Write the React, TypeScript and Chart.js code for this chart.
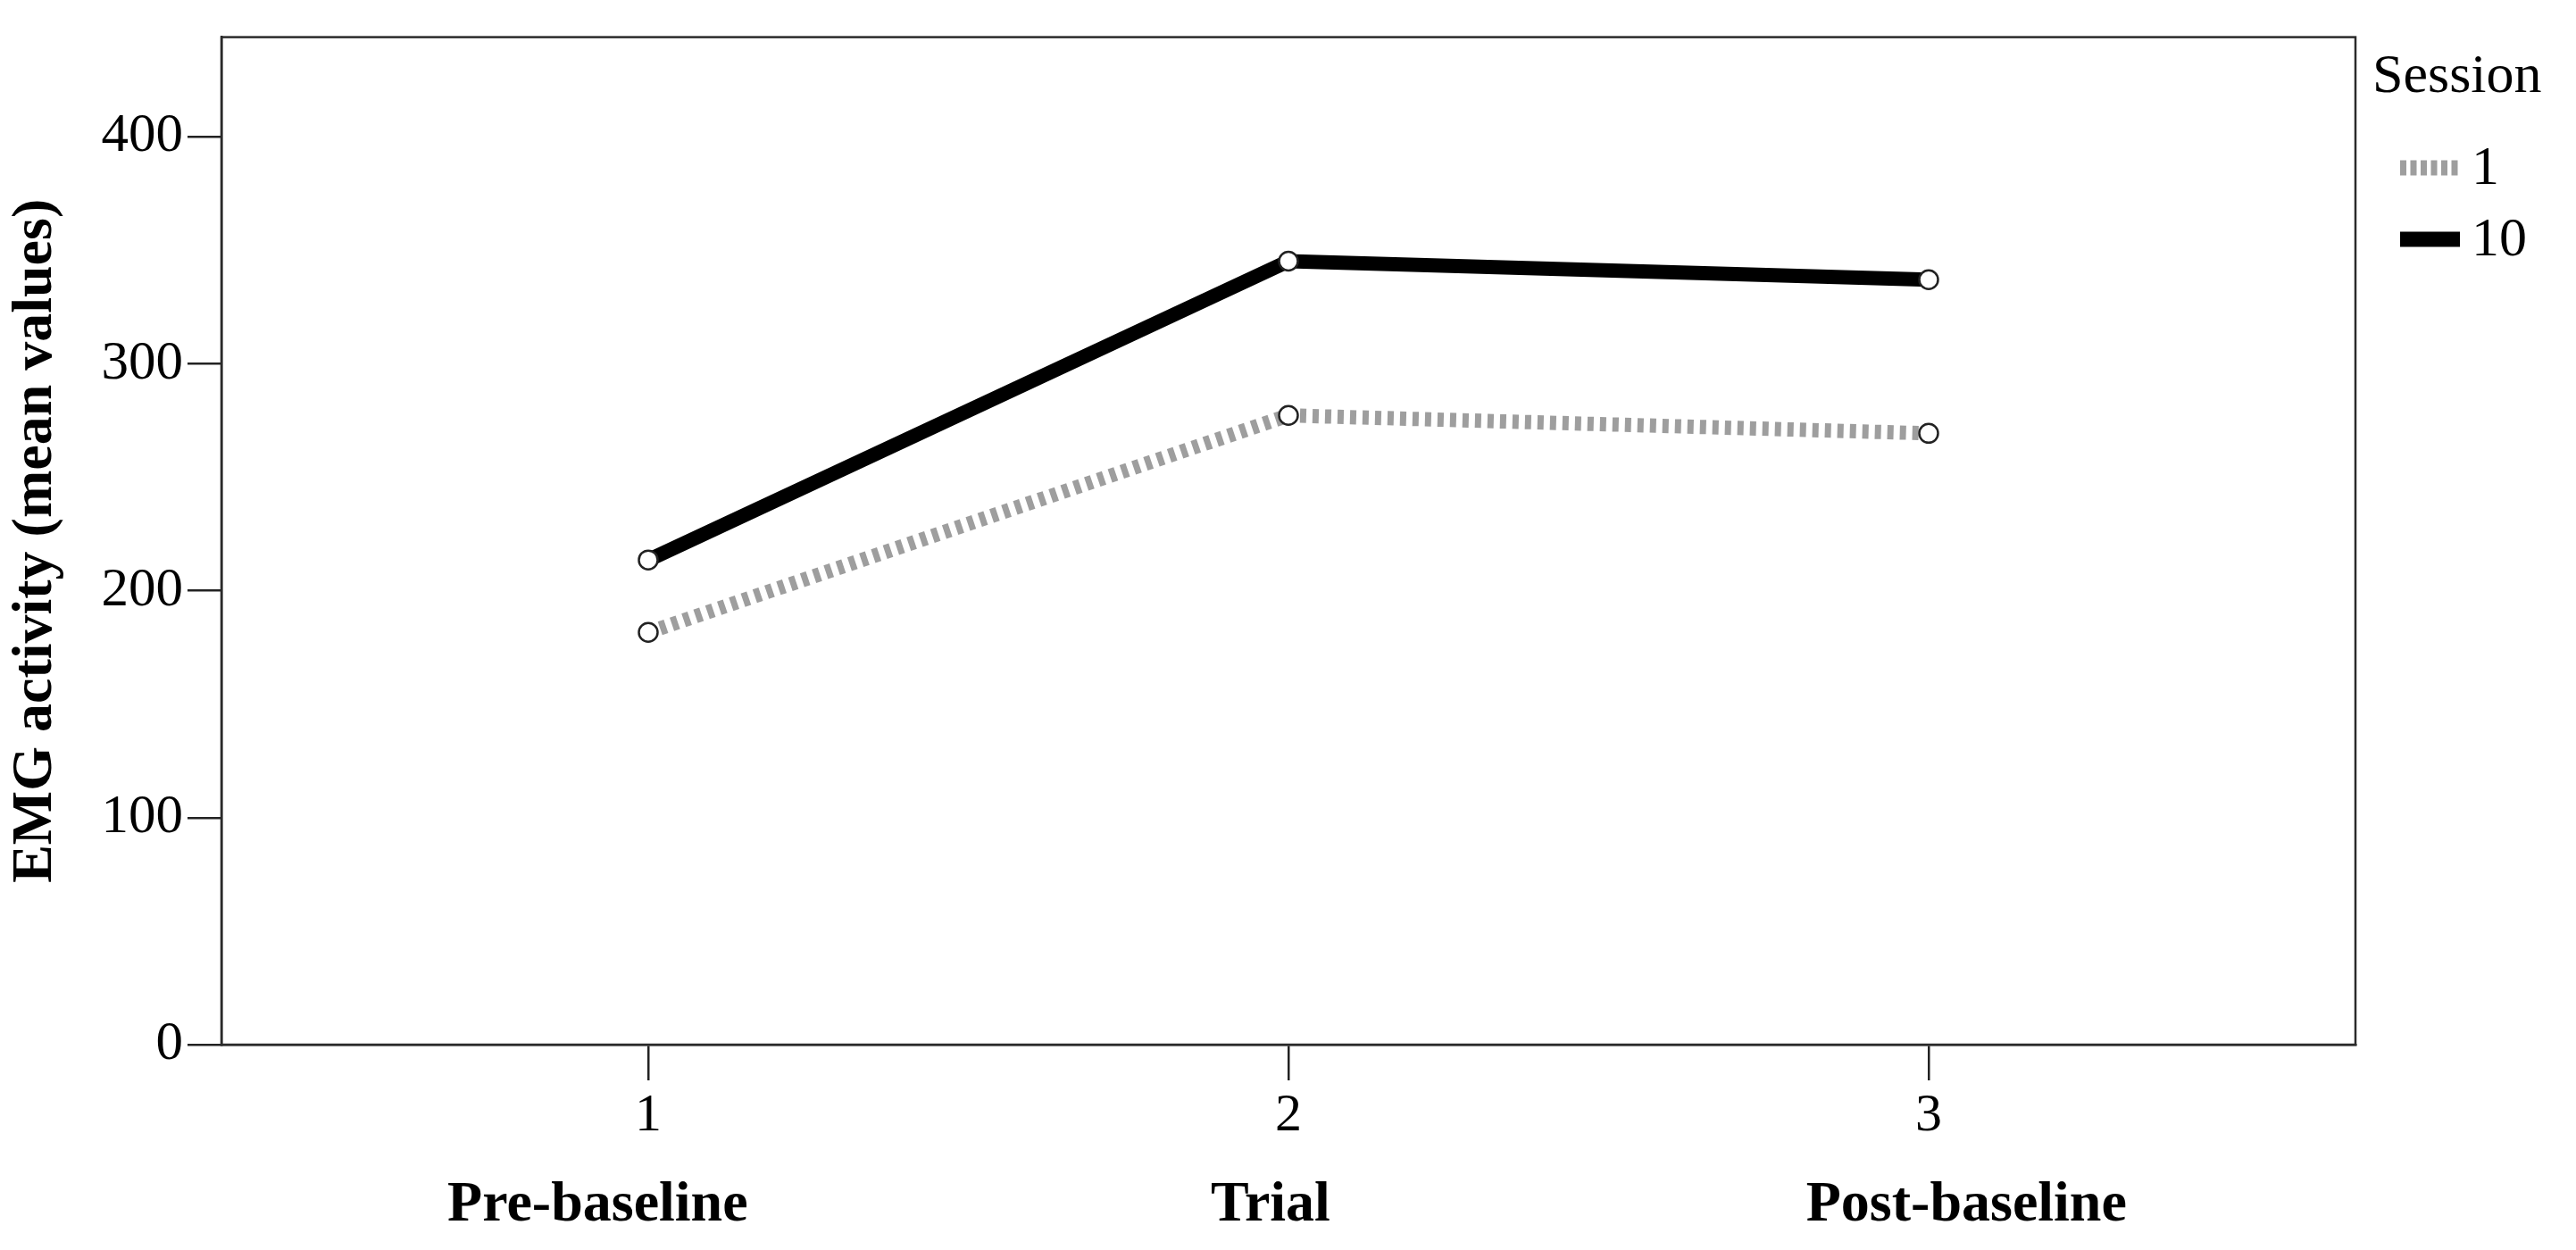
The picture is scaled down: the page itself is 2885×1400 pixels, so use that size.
import React, { useEffect, useRef } from "react";
import { Chart, registerables } from "chart.js";

Chart.register(...registerables);

const categories = ["Pre-baseline", "Trial", "Post-baseline"];
const categoryLabelPositions = [0.921, 1.972, 3.059];
const xPositions = [1, 2, 3];
const session1 = [181.7, 277.3, 269.4];
const session10 = [213.6, 345.3, 337.1];
const seriesLabels = ["1", "10"];
const yTicks = [0, 100, 200, 300, 400];
const legendTitle = "Session";
const yTitle = "EMG activity (mean values)";

const FONT = "'Liberation Serif', 'Times New Roman', serif";

const boxPlugin = {
  id: "boxPlugin",
  beforeDatasetsDraw(chart: any) {
    const { ctx, chartArea } = chart;
    ctx.save();
    ctx.strokeStyle = "#2a2a2a";
    ctx.lineWidth = 2.5;
    ctx.strokeRect(chartArea.left, chartArea.top, chartArea.right - chartArea.left, chartArea.bottom - chartArea.top);
    ctx.restore();
  },
};

const legendPlugin = {
  id: "customLegend",
  afterDraw(chart: any) {
    const { ctx, chartArea } = chart;
    const x0 = chartArea.right + 19;
    ctx.save();
    ctx.fillStyle = "#000";
    ctx.font = `62px ${FONT}`;
    ctx.textBaseline = "middle";
    ctx.textAlign = "left";
    ctx.fillText(legendTitle, x0, 87);
    const rows = [188, 268];
    chart.data.datasets.forEach((ds: any, i: number) => {
      const y = rows[i];
      ctx.beginPath();
      ctx.strokeStyle = ds.borderColor;
      ctx.lineWidth = 17;
      ctx.lineCap = "butt";
      ctx.setLineDash(ds.borderDash && ds.borderDash.length ? [7, 4.5] : []);
      ctx.moveTo(x0 + 31, y);
      ctx.lineTo(x0 + 98, y);
      ctx.stroke();
      ctx.setLineDash([]);
      ctx.fillStyle = "#000";
      ctx.font = `62px ${FONT}`;
      ctx.fillText(ds.label, x0 + 111, y + 2);
    });
    ctx.restore();
  },
};

export default function App() {
  const ref = useRef<HTMLCanvasElement | null>(null);

  useEffect(() => {
    if (!ref.current) return;
    const pointOpts = {
      pointRadius: 10.5,
      pointBorderWidth: 2.5,
      pointBorderColor: "#222",
      pointBackgroundColor: "#fff",
      pointHoverRadius: 10.5,
    };
    const chart = new Chart(ref.current, {
      type: "line",
      data: {
        datasets: [
          {
            label: seriesLabels[0],
            data: xPositions.map((x, i) => ({ x, y: session1[i] })),
            borderColor: "#9e9e9e",
            borderWidth: 16,
            borderDash: [7, 7],
            borderCapStyle: "butt",
            ...pointOpts,
          },
          {
            label: seriesLabels[1],
            data: xPositions.map((x, i) => ({ x, y: session10[i] })),
            borderColor: "#000",
            borderWidth: 16,
            borderDash: [],
            borderCapStyle: "butt",
            ...pointOpts,
          },
        ],
      },
      plugins: [boxPlugin, legendPlugin],
      options: {
        animation: false,
        responsive: false,
        maintainAspectRatio: false,
        layout: { padding: { top: 40, right: 247, bottom: 0, left: 0 } },
        plugins: { legend: { display: false }, tooltip: { enabled: false } },
        scales: {
          x: {
            type: "linear",
            position: "bottom",
            min: 1 / 3,
            max: 11 / 3,
            afterBuildTicks: (axis: any) => {
              axis.ticks = xPositions.map((v) => ({ value: v }));
            },
            afterFit: (axis: any) => {
              axis.height = 120;
            },
            grid: {
              display: true,
              drawOnChartArea: false,
              drawTicks: true,
              tickLength: 40,
              color: "#222",
              lineWidth: 2.5,
            },
            border: { display: true, color: "#2a2a2a", width: 2.5 },
            ticks: {
              color: "#000",
              font: { family: FONT, size: 60 },
              padding: 4,
              callback: (v: any) => String(v),
            },
          },
          x2: {
            type: "linear",
            position: "bottom",
            min: 1 / 3,
            max: 11 / 3,
            afterBuildTicks: (axis: any) => {
              axis.ticks = categoryLabelPositions.map((v) => ({ value: v }));
            },
            afterFit: (axis: any) => {
              axis.height = 110;
            },
            grid: { display: false, drawTicks: false },
            border: { display: false },
            ticks: {
              color: "#000",
              font: { family: FONT, size: 64, weight: "bold" },
              padding: 22,
              callback: (v: any) => categories[categoryLabelPositions.indexOf(Number(v))] ?? "",
            },
          },
          y: {
            type: "linear",
            min: 0,
            max: 444,
            afterBuildTicks: (axis: any) => {
              axis.ticks = yTicks.map((v) => ({ value: v }));
            },
            afterFit: (axis: any) => {
              axis.width = 248;
            },
            grid: {
              display: true,
              drawOnChartArea: false,
              drawTicks: true,
              tickLength: 38,
              color: "#222",
              lineWidth: 2.5,
            },
            border: { display: true, color: "#2a2a2a", width: 2.5 },
            ticks: {
              color: "#000",
              font: { family: FONT, size: 61 },
              padding: 5,
            },
            title: {
              display: true,
              text: yTitle,
              color: "#000",
              font: { family: FONT, size: 64, weight: "bold" },
              padding: { top: 2, bottom: 0 },
            },
          },
        },
      },
    } as any);
    return () => chart.destroy();
  }, []);

  return (
    <div style={{ position: "fixed", left: 0, top: 0, width: 2885, height: 1400, background: "#fff" }}>
      <canvas ref={ref} width={2885} height={1400} style={{ width: 2885, height: 1400, display: "block" }} />
    </div>
  );
}
